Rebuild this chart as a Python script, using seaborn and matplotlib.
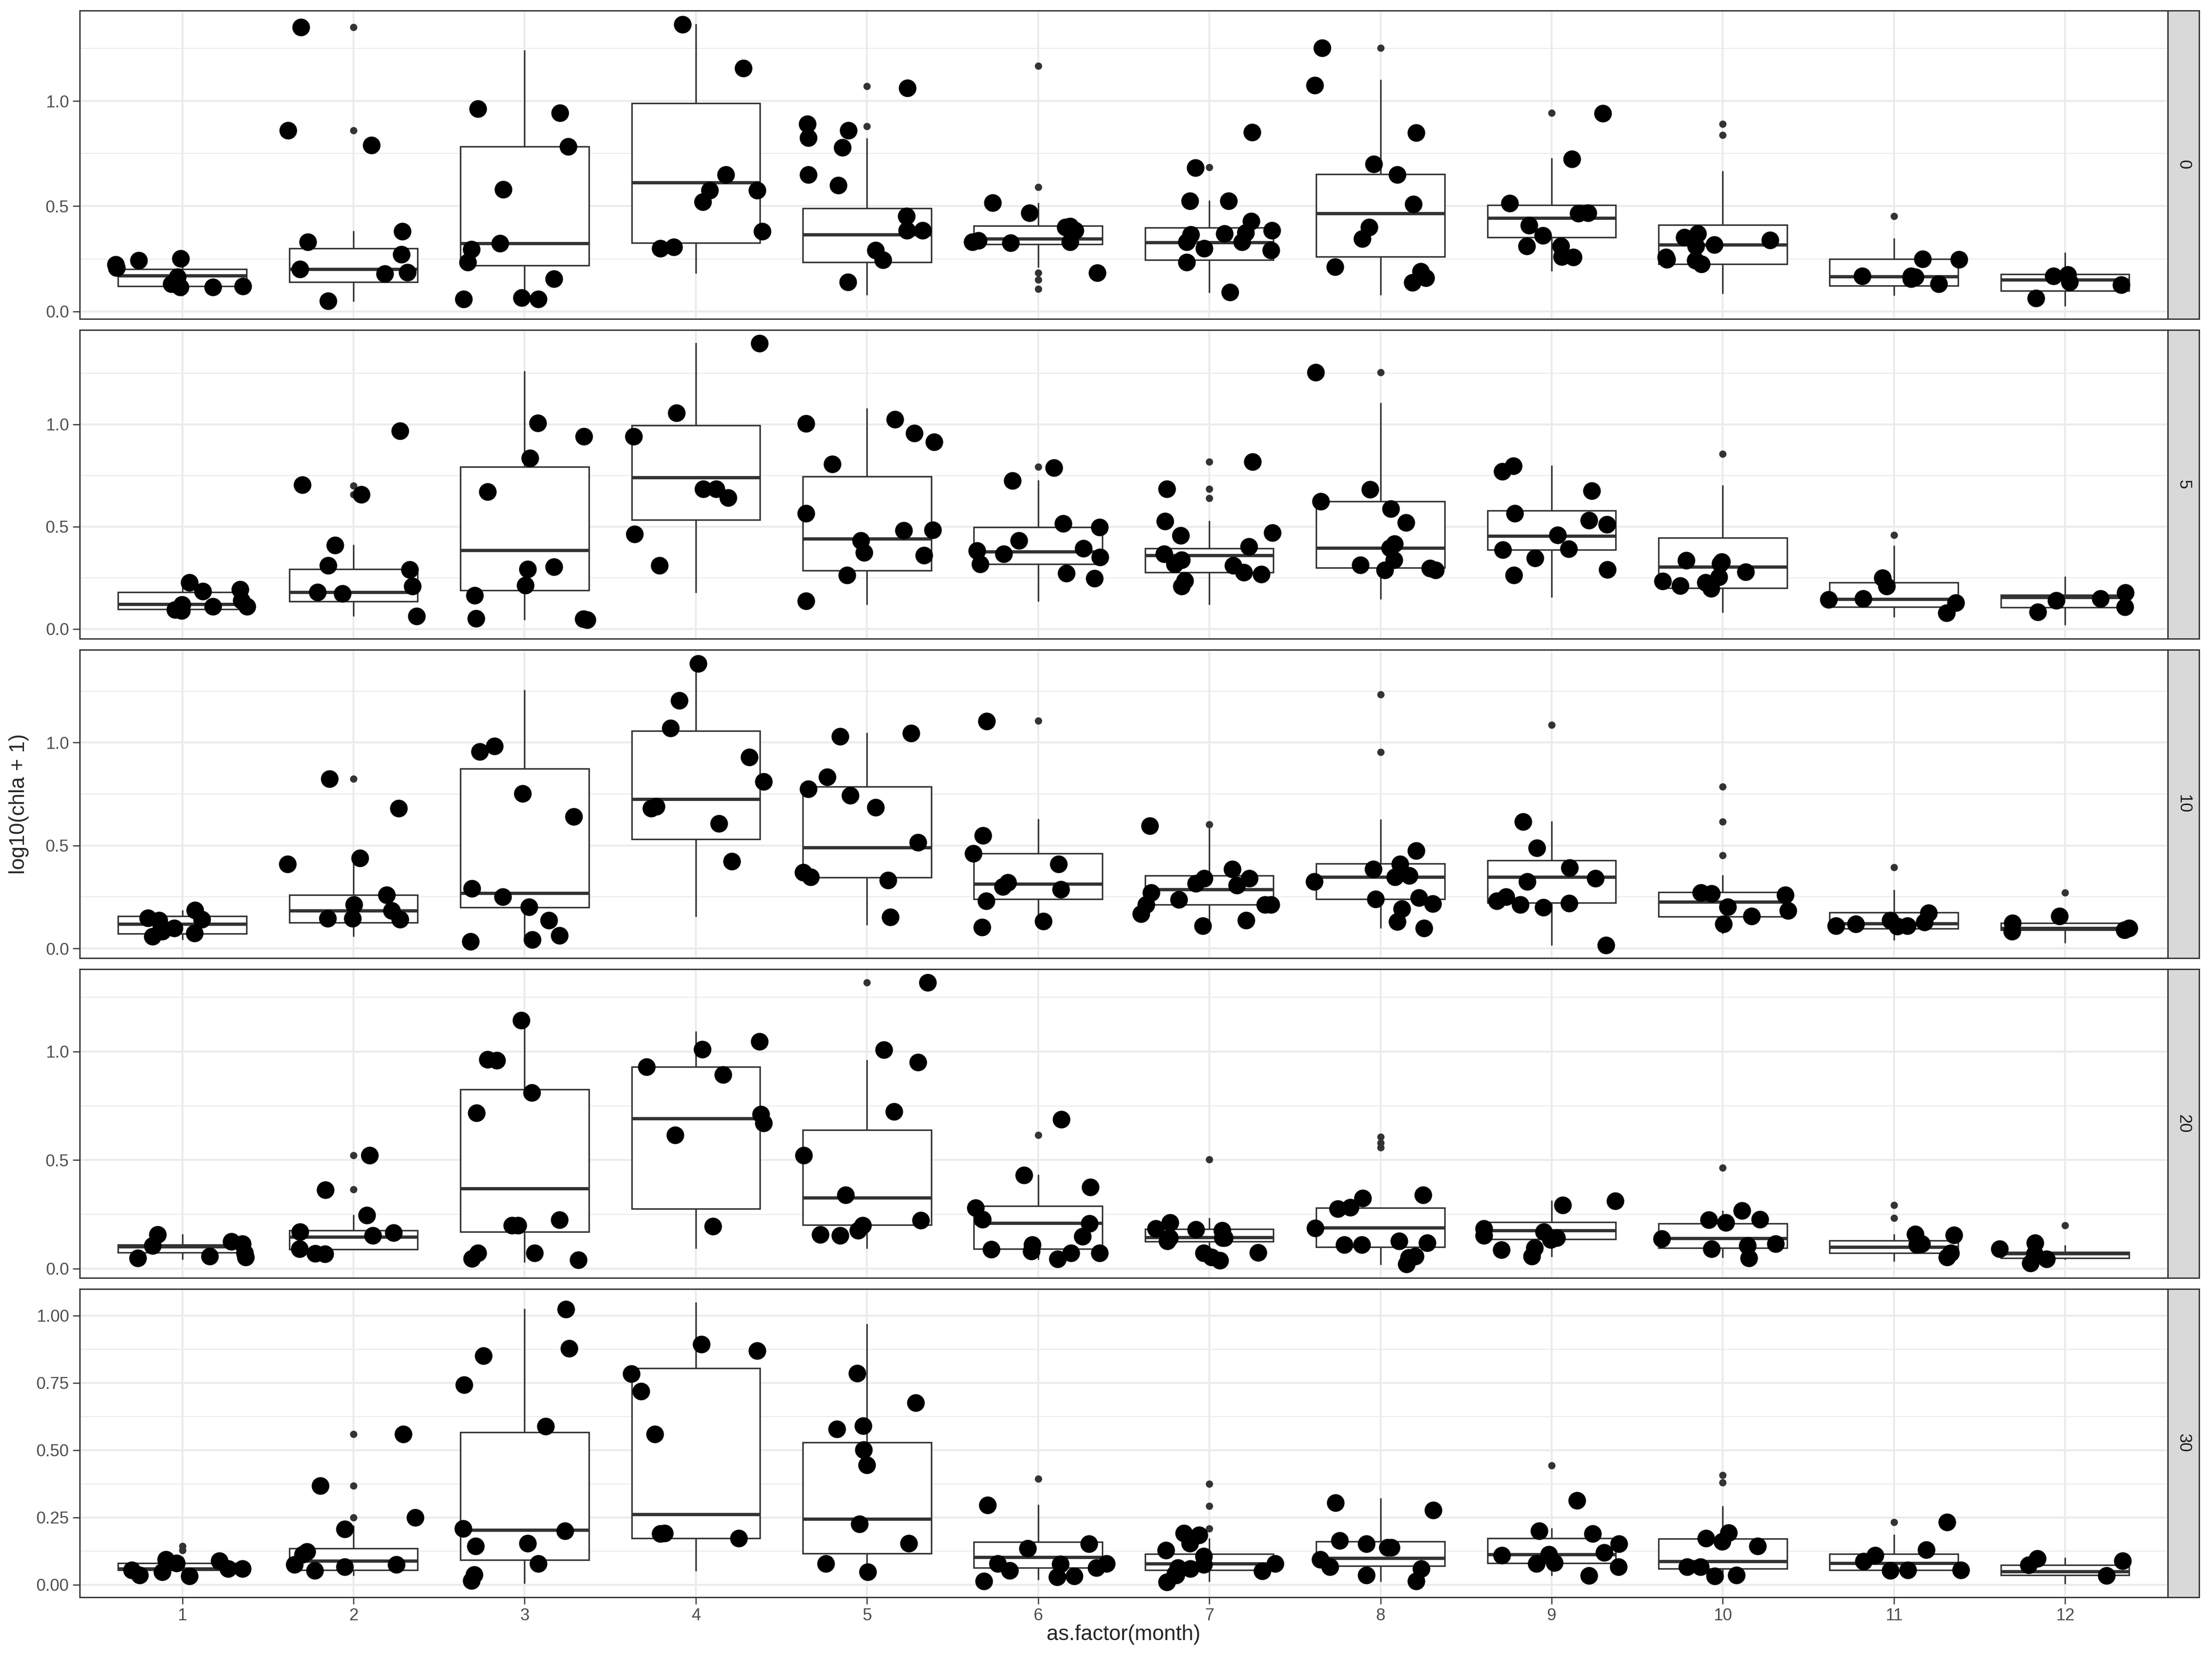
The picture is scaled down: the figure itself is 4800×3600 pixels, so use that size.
import numpy as np
import pandas as pd
import matplotlib
matplotlib.use("Agg")
import matplotlib.pyplot as plt
import seaborn as sns
from matplotlib.patches import Rectangle
from matplotlib.ticker import MultipleLocator, FormatStrFormatter

months = [str(m) for m in range(1, 13)]
depths = ["0", "5", "10", "20", "30"]

# ---- depth 0 : box summaries
lo_0 = [0.076, 0.05, 0.027, 0.184, 0.081, 0.213, 0.091, 0.081, 0.194, 0.088, 0.078, 0.027]
q1_0 = [0.12, 0.14, 0.218, 0.326, 0.233, 0.319, 0.245, 0.26, 0.353, 0.226, 0.123, 0.098]
med_0 = [0.17, 0.20, 0.323, 0.613, 0.365, 0.345, 0.328, 0.465, 0.443, 0.318, 0.166, 0.15]
q3_0 = [0.20, 0.30, 0.783, 0.989, 0.49, 0.407, 0.397, 0.651, 0.505, 0.412, 0.249, 0.176]
hi_0 = [0.25, 0.38, 1.239, 1.363, 0.82, 0.514, 0.526, 1.099, 0.727, 0.666, 0.345, 0.277]
out_0 = [[], [0.86, 1.35], [], [], [0.88, 1.07], [0.106, 0.15, 0.184, 0.59, 1.167],
         [0.685], [1.252], [0.944], [0.838, 0.89], [0.453], []]
pts_0 = [
    [0.243, 0.208, 0.164, 0.115, 0.13, 0.115, 0.223, 0.252, 0.12],
    [0.27, 0.18, 0.20, 0.185, 0.38, 0.33, 0.79, 0.86, 1.35, 0.05],
    [0.964, 0.944, 0.783, 0.58, 0.323, 0.296, 0.233, 0.155, 0.059, 0.059, 0.066],
    [1.363, 1.155, 0.649, 0.575, 0.52, 0.575, 0.38, 0.306, 0.30],
    [1.062, 0.89, 0.861, 0.825, 0.78, 0.649, 0.60, 0.453, 0.385, 0.385, 0.29, 0.245, 0.14],
    [0.517, 0.468, 0.404, 0.336, 0.331, 0.385, 0.326, 0.40, 0.33, 0.184],
    [0.683, 0.526, 0.429, 0.375, 0.091, 0.851, 0.524, 0.385, 0.331, 0.331, 0.29, 0.233, 0.37, 0.365, 0.30],
    [1.252, 1.074, 0.849, 0.70, 0.649, 0.509, 0.40, 0.345, 0.213, 0.189, 0.16, 0.137],
    [0.942, 0.725, 0.465, 0.515, 0.468, 0.409, 0.36, 0.311, 0.311, 0.257, 0.26],
    [0.37, 0.353, 0.338, 0.311, 0.316, 0.248, 0.243, 0.257, 0.226],
    [0.25, 0.248, 0.155, 0.169, 0.164, 0.169, 0.13],
    [0.14, 0.127, 0.169, 0.064, 0.174],
]

# ---- depth 5
lo_5 = [0.064, 0.064, 0.047, 0.179, 0.121, 0.137, 0.121, 0.149, 0.157, 0.084, 0.06, 0.022]
q1_5 = [0.097, 0.134, 0.188, 0.533, 0.285, 0.317, 0.276, 0.30, 0.387, 0.201, 0.107, 0.106]
med_5 = [0.122, 0.18, 0.384, 0.741, 0.441, 0.379, 0.36, 0.397, 0.454, 0.303, 0.147, 0.156]
q3_5 = [0.179, 0.293, 0.792, 0.995, 0.744, 0.498, 0.394, 0.623, 0.578, 0.446, 0.228, 0.166]
hi_5 = [0.223, 0.41, 1.258, 1.396, 1.076, 0.724, 0.526, 1.103, 0.796, 0.701, 0.404, 0.253]
out_5 = [[], [0.657, 0.70], [], [], [], [0.792], [0.64, 0.685, 0.818], [1.253], [], [0.855], [0.458], []]
pts_5 = [
    [0.193, 0.109, 0.089, 0.119, 0.184, 0.094, 0.226, 0.109, 0.139],
    [0.967, 0.704, 0.657, 0.41, 0.29, 0.31, 0.208, 0.179, 0.174, 0.063],
    [1.007, 0.942, 0.835, 0.67, 0.303, 0.293, 0.213, 0.164, 0.052, 0.05, 0.045],
    [1.396, 1.055, 0.942, 0.685, 0.642, 0.685, 0.463, 0.31],
    [1.024, 1.005, 0.957, 0.913, 0.807, 0.565, 0.483, 0.481, 0.432, 0.374, 0.359, 0.263, 0.136],
    [0.789, 0.724, 0.516, 0.498, 0.432, 0.367, 0.382, 0.394, 0.317, 0.352, 0.273, 0.248],
    [0.818, 0.685, 0.526, 0.471, 0.456, 0.402, 0.367, 0.337, 0.31, 0.317, 0.276, 0.268, 0.236, 0.208],
    [1.253, 0.682, 0.623, 0.588, 0.521, 0.397, 0.417, 0.337, 0.288, 0.288, 0.298, 0.313],
    [0.771, 0.797, 0.675, 0.565, 0.531, 0.511, 0.458, 0.387, 0.392, 0.347, 0.29, 0.263],
    [0.335, 0.319, 0.329, 0.211, 0.228, 0.278, 0.253, 0.233, 0.198],
    [0.25, 0.208, 0.144, 0.149, 0.129, 0.079],
    [0.177, 0.149, 0.139, 0.107, 0.084],
]

# ---- depth 10
lo_10 = [0.046, 0.061, 0.035, 0.158, 0.116, 0.106, 0.099, 0.101, 0.018, 0.074, 0.042, 0.03]
q1_10 = [0.072, 0.126, 0.20, 0.53, 0.345, 0.24, 0.212, 0.24, 0.222, 0.155, 0.096, 0.089]
med_10 = [0.12, 0.183, 0.27, 0.725, 0.491, 0.314, 0.288, 0.348, 0.347, 0.227, 0.121, 0.099]
q3_10 = [0.156, 0.261, 0.873, 1.056, 0.786, 0.462, 0.355, 0.412, 0.428, 0.273, 0.175, 0.123]
hi_10 = [0.184, 0.439, 1.253, 1.383, 1.046, 0.628, 0.582, 0.626, 0.617, 0.355, 0.283, 0.148]
out_10 = [[], [0.824], [], [], [], [1.107], [0.602], [0.955, 1.233], [1.087],
          [0.452, 0.617, 0.786], [0.395], [0.271]]
pts_10 = [
    [0.187, 0.074, 0.099, 0.148, 0.138, 0.141, 0.059, 0.104, 0.084],
    [0.824, 0.681, 0.439, 0.411, 0.261, 0.212, 0.183, 0.146, 0.146, 0.141],
    [0.957, 0.984, 0.753, 0.641, 0.291, 0.252, 0.202, 0.138, 0.033, 0.064, 0.044],
    [1.383, 1.204, 1.07, 0.93, 0.811, 0.681, 0.69, 0.607, 0.424],
    [1.046, 1.031, 0.834, 0.776, 0.743, 0.686, 0.516, 0.37, 0.348, 0.332, 0.153],
    [1.105, 0.548, 0.462, 0.409, 0.321, 0.301, 0.286, 0.232, 0.133, 0.104],
    [0.597, 0.385, 0.34, 0.34, 0.316, 0.306, 0.271, 0.237, 0.212, 0.212, 0.212, 0.168, 0.138, 0.109],
    [0.474, 0.411, 0.385, 0.355, 0.348, 0.326, 0.24, 0.217, 0.247, 0.192, 0.13, 0.099],
    [0.617, 0.488, 0.392, 0.34, 0.324, 0.25, 0.212, 0.2, 0.232, 0.219, 0.015],
    [0.271, 0.261, 0.266, 0.202, 0.183, 0.158, 0.118],
    [0.173, 0.138, 0.128, 0.118, 0.109, 0.11, 0.107],
    [0.158, 0.123, 0.089, 0.084, 0.099],
]

# ---- depth 20
lo_20 = [0.044, 0.088, 0.032, 0.096, 0.096, 0.045, 0.037, 0.021, 0.058, 0.053, 0.035, 0.044]
q1_20 = [0.075, 0.088, 0.169, 0.275, 0.201, 0.091, 0.125, 0.10, 0.136, 0.096, 0.072, 0.049]
med_20 = [0.102, 0.147, 0.37, 0.692, 0.327, 0.21, 0.145, 0.189, 0.177, 0.14, 0.10, 0.069]
q3_20 = [0.111, 0.175, 0.825, 0.929, 0.639, 0.289, 0.183, 0.281, 0.214, 0.208, 0.13, 0.077]
hi_20 = [0.156, 0.247, 1.144, 1.091, 0.96, 0.431, 0.231, 0.281, 0.311, 0.266, 0.156, 0.105]
out_20 = [[], [0.364, 0.522], [], [], [1.319], [0.615], [0.503], [0.559, 0.58, 0.608],
          [], [0.465], [0.233, 0.292], [0.2]]
pts_20 = [
    [0.156, 0.105, 0.114, 0.053, 0.058, 0.072, 0.049, 0.124],
    [0.522, 0.362, 0.245, 0.169, 0.166, 0.152, 0.091, 0.07, 0.067],
    [1.144, 0.964, 0.959, 0.812, 0.718, 0.225, 0.2, 0.199, 0.072, 0.072, 0.041, 0.046],
    [1.011, 1.046, 0.929, 0.894, 0.712, 0.671, 0.615, 0.194],
    [1.319, 1.008, 0.952, 0.723, 0.522, 0.339, 0.222, 0.199, 0.175, 0.152, 0.156],
    [0.688, 0.431, 0.375, 0.28, 0.208, 0.227, 0.149, 0.11, 0.072, 0.081, 0.089, 0.072, 0.044],
    [0.213, 0.142, 0.142, 0.18, 0.175, 0.142, 0.184, 0.128, 0.072, 0.053, 0.075, 0.037],
    [0.339, 0.325, 0.276, 0.283, 0.187, 0.11, 0.128, 0.119, 0.11, 0.051, 0.058, 0.021],
    [0.311, 0.292, 0.17, 0.142, 0.152, 0.184, 0.133, 0.096, 0.086, 0.058],
    [0.267, 0.213, 0.224, 0.227, 0.138, 0.114, 0.105, 0.091, 0.049],
    [0.154, 0.158, 0.111, 0.114, 0.072, 0.053],
    [0.119, 0.091, 0.067, 0.044, 0.025],
]

# ---- depth 30
lo_30 = [0.024, 0.036, 0.007, 0.053, 0.047, 0.02, 0.013, 0.013, 0.036, 0.021, 0.03, 0.005]
q1_30 = [0.055, 0.055, 0.092, 0.172, 0.116, 0.063, 0.055, 0.07, 0.08, 0.059, 0.055, 0.036]
med_30 = [0.06, 0.088, 0.204, 0.261, 0.244, 0.103, 0.078, 0.099, 0.112, 0.086, 0.08, 0.049]
q3_30 = [0.08, 0.135, 0.567, 0.804, 0.529, 0.158, 0.115, 0.161, 0.172, 0.171, 0.114, 0.073]
hi_30 = [0.102, 0.219, 1.024, 1.047, 0.967, 0.296, 0.17, 0.32, 0.208, 0.29, 0.185, 0.099]
out_30 = [[0.128, 0.143], [0.25, 0.368, 0.56], [], [], [], [0.393], [0.208, 0.292, 0.374],
          [], [0.443], [0.38, 0.407], [0.232], []]
pts_30 = [
    [0.08, 0.059, 0.036, 0.093, 0.059, 0.055, 0.047, 0.032, 0.089],
    [0.56, 0.368, 0.25, 0.206, 0.112, 0.122, 0.067, 0.074, 0.074, 0.053],
    [1.024, 0.878, 0.85, 0.743, 0.589, 0.2, 0.208, 0.154, 0.143, 0.078, 0.015, 0.037],
    [0.894, 0.869, 0.784, 0.719, 0.56, 0.172, 0.189, 0.191],
    [0.785, 0.676, 0.579, 0.59, 0.502, 0.445, 0.226, 0.154, 0.078, 0.047],
    [0.296, 0.151, 0.134, 0.078, 0.076, 0.078, 0.063, 0.053, 0.028, 0.032, 0.013],
    [0.128, 0.185, 0.154, 0.191, 0.063, 0.059, 0.078, 0.074, 0.105, 0.04, 0.009, 0.036, 0.051],
    [0.277, 0.305, 0.151, 0.138, 0.138, 0.164, 0.093, 0.059, 0.067, 0.036, 0.013],
    [0.313, 0.2, 0.189, 0.151, 0.112, 0.12, 0.082, 0.078, 0.067, 0.034, 0.109],
    [0.193, 0.172, 0.161, 0.143, 0.067, 0.036, 0.067, 0.032],
    [0.232, 0.129, 0.109, 0.087, 0.055, 0.053, 0.055],
    [0.097, 0.089, 0.073, 0.034],
]

panels = {
    "0": (lo_0, q1_0, med_0, q3_0, hi_0, out_0, pts_0),
    "5": (lo_5, q1_5, med_5, q3_5, hi_5, out_5, pts_5),
    "10": (lo_10, q1_10, med_10, q3_10, hi_10, out_10, pts_10),
    "20": (lo_20, q1_20, med_20, q3_20, hi_20, out_20, pts_20),
    "30": (lo_30, q1_30, med_30, q3_30, hi_30, out_30, pts_30),
}
# free y scales, as in the facet_grid
ylims = {"0": (-0.036, 1.43), "5": (-0.047, 1.461), "10": (-0.047, 1.452),
         "20": (-0.042, 1.38), "30": (-0.047, 1.10)}

sns.set_theme(style="white")
plt.rcParams["font.family"] = ["Liberation Sans", "DejaVu Sans"]

GREY20 = "#333333"
GRID = "#EBEBEB"

fig, axes = plt.subplots(5, 1, figsize=(16, 12), dpi=300)
fig.subplots_adjust(left=0.036, right=0.980, top=0.9937, bottom=0.0372, hspace=0.0357)

np.random.seed(11)
for i, (depth, ax) in enumerate(zip(depths, axes)):
    lo, q1, med, q3, hi, out, pts = panels[depth]
    stats = []
    for m in range(12):
        stats.append({"whislo": lo[m], "q1": q1[m], "med": med[m], "q3": q3[m],
                      "whishi": hi[m], "fliers": out[m]})
    ax.bxp(stats, positions=range(12), widths=0.75, showcaps=False, patch_artist=True,
           boxprops=dict(facecolor="white", edgecolor=GREY20, linewidth=0.8),
           medianprops=dict(color=GREY20, linewidth=1.7, solid_capstyle="butt"),
           whiskerprops=dict(color=GREY20, linewidth=0.8),
           flierprops=dict(marker="o", markersize=3.8, markerfacecolor=GREY20,
                           markeredgecolor="none"),
           zorder=2, manage_ticks=False)

    df = pd.DataFrame({"month": [months[m] for m in range(12) for _ in pts[m]],
                       "value": [v for m in range(12) for v in pts[m]]})
    sns.stripplot(data=df, x="month", y="value", order=months, jitter=0.4, size=9.2,
                  color="black", linewidth=0, ax=ax, zorder=3)

    ax.set_xlim(-0.6, 11.6)
    ax.set_ylim(*ylims[depth])
    ax.set_xlabel("")
    ax.set_ylabel("")
    ax.set_xticks(range(12))
    if depth == "30":
        ax.yaxis.set_major_locator(MultipleLocator(0.25))
        ax.yaxis.set_minor_locator(MultipleLocator(0.125))
        ax.yaxis.set_major_formatter(FormatStrFormatter("%.2f"))
    else:
        ax.yaxis.set_major_locator(MultipleLocator(0.5))
        ax.yaxis.set_minor_locator(MultipleLocator(0.25))
        ax.yaxis.set_major_formatter(FormatStrFormatter("%.1f"))
    ax.set_axisbelow(True)
    ax.grid(True, which="major", color=GRID, linewidth=1.0)
    ax.grid(True, which="minor", axis="y", color=GRID, linewidth=0.5)
    ax.tick_params(axis="y", which="major", length=3.5, width=0.6, color=GREY20,
                   labelsize=8.8, labelcolor="#4D4D4D", pad=2, left=True)
    ax.tick_params(which="minor", length=0)
    if i < 4:
        ax.tick_params(axis="x", length=0, labelbottom=False)
    else:
        ax.set_xticklabels(months)
        ax.tick_params(axis="x", length=3.5, width=0.6, color=GREY20, labelsize=8.8,
                       labelcolor="#4D4D4D", pad=2, bottom=True)
    for sp in ax.spines.values():
        sp.set_color(GREY20)
        sp.set_linewidth(0.7)
        sp.set_visible(True)

    # facet strip on the right
    ax.add_patch(Rectangle((1.0, 0.0), 0.0149, 1.0, transform=ax.transAxes, clip_on=False,
                           facecolor="#D9D9D9", edgecolor=GREY20, linewidth=0.7))
    ax.text(1.00745, 0.5, depth, transform=ax.transAxes, rotation=-90, ha="center",
            va="center", fontsize=8.8, color="#1A1A1A")

fig.text(0.508, 0.0085, "as.factor(month)", ha="center", va="bottom", fontsize=11)
fig.text(0.004, 0.5155, "log10(chla + 1)", ha="left", va="center", rotation=90, fontsize=11)

fig.savefig("out.png", dpi=300)
